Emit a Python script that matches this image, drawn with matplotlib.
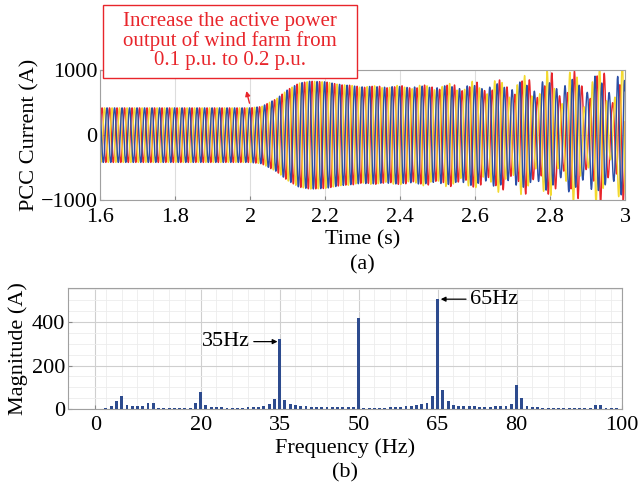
import matplotlib.pyplot as plt
import matplotlib.patches as patches
import numpy as np

plt.rcParams['font.family'] = ['Liberation Serif', 'DejaVu Serif']

# (a) PCC current: envelope key points
env_t = [1.6, 2.0, 2.03, 2.07, 2.1, 2.13, 2.16, 2.2, 2.25, 2.3, 2.5, 3.0]
env_amp = [420, 420, 440, 560, 700, 800, 830, 820, 770, 745, 740, 740]
# sub-synchronous oscillation amplitude (35 Hz / 65 Hz pair)
osc_t = [1.6, 2.2, 2.4, 2.5, 2.6, 2.7, 2.8, 2.9, 3.0]
osc_amp = [0, 0, 15, 30, 60, 110, 170, 220, 260]
f_fund = 50
f_sub, f_sup = 35, 65

# (b) spectrum, 1 Hz resolution, 0..100 Hz
freqs = list(range(0, 101))
mags = [1, 2, 4, 12, 37, 58, 20, 14, 14, 14, 30, 30, 3, 3, 3, 3, 3, 4, 6, 27,
        79, 17, 10, 9, 9, 7, 6, 6, 7, 8, 9, 10, 14, 22, 48, 322, 40, 25, 18, 14,
        12, 10, 9, 9, 8, 8, 8, 8, 8, 8, 419, 5, 5, 6, 6, 7, 8, 9, 10, 12,
        14, 18, 24, 30, 58, 504, 86, 36, 20, 15, 13, 12, 12, 11, 11, 11, 12, 13, 16, 25,
        112, 50, 16, 10, 8, 6, 6, 5, 5, 5, 5, 5, 5, 5, 6, 20, 17, 3, 3, 3, 2]

t = np.arange(1.6, 3.0, 1e-4)
A = np.interp(t, env_t, env_amp)
B = np.interp(t, osc_t, osc_amp)
phases = [0, -2 * np.pi / 3, 2 * np.pi / 3]
colors = ['#e8252b', '#f3d92f', '#2a4ea6']

fs = 16
fig = plt.figure(figsize=(6.38, 4.87), dpi=100)
ax1 = fig.add_axes([0.157, 0.589, 0.823, 0.267])
ax2 = fig.add_axes([0.1066, 0.160, 0.868, 0.248])

for ph, c in zip(phases, colors):
    i = (A * np.sin(2 * np.pi * f_fund * t + ph)
         + B * np.sin(2 * np.pi * f_sup * t + ph + 0.4)
         + 0.6 * B * np.sin(2 * np.pi * f_sub * t - ph + 1.1))
    ax1.plot(t, i, color=c, lw=1.0)

ax1.set_xlim(1.6, 3.0)
ax1.set_ylim(-1000, 1000)
ax1.set_xticks([1.6, 1.8, 2.0, 2.2, 2.4, 2.6, 2.8, 3.0], ['1.6', '1.8', '2', '2.2', '2.4', '2.6', '2.8', '3'])
ax1.set_yticks([-1000, 0, 1000], ['\u22121000', '0', '1000'])
ax1.grid(color='#dddddd', lw=0.8)
ax1.set_axisbelow(True)
ax1.set_xlabel('Time (s)', fontsize=fs)
ax1.xaxis.set_label_coords(0.5, -0.235)
ax1.set_ylabel('PCC Current (A)', fontsize=fs)
ax1.yaxis.set_label_coords(-0.115, 0.5)
ax1.text(0.5, -0.5, '(a)', transform=ax1.transAxes, ha='center', va='center', fontsize=fs)

ax1.annotate('', xy=(1.988, 720), xytext=(2.0, 450),
             arrowprops=dict(arrowstyle='-|>', color='#e8252b', lw=1.0, mutation_scale=7))
fig.patches.append(patches.Rectangle((0.1614, 0.8398), 0.398, 0.150, transform=fig.transFigure,
                                     fc='white', ec='#e8252b', lw=1.0, zorder=5))
fig.text(0.3605, 0.915, 'Increase the active power\noutput of wind farm from\n0.1 p.u. to 0.2 p.u.',
         ha='center', va='center', fontsize=15, color='#e8252b', linespacing=1.0, zorder=6)

ax2.bar(freqs, mags, width=0.55, color='#2d4b8e', zorder=3)
ax2.set_xlim(-5.2, 100)
ax2.set_ylim(0, 555)
ax2.set_xticks([0, 20, 35, 50, 65, 80, 100])
ax2.set_yticks([0, 200, 400])
ax2.set_xticks(np.arange(2, 100, 3), minor=True)
ax2.set_yticks(np.arange(50, 551, 50), minor=True)
ax2.tick_params(which='minor', length=0)
ax2.grid(which='major', color='#cfcfcf', lw=0.8)
ax2.grid(which='minor', color='#ececec', lw=0.6)
ax2.set_axisbelow(True)
ax2.set_xlabel('Frequency (Hz)', fontsize=fs)
ax2.xaxis.set_label_coords(0.5, -0.24)
ax2.set_ylabel('Magnitude (A)', fontsize=fs)
ax2.yaxis.set_label_coords(-0.072, 0.5)
ax2.text(0.5, -0.53, '(b)', transform=ax2.transAxes, ha='center', va='center', fontsize=fs)

ax2.annotate('35Hz', xy=(34.6, 310), xytext=(29.3, 310), fontsize=fs, va='center', ha='right',
             arrowprops=dict(arrowstyle='-|>', color='black', lw=0.9, mutation_scale=7, shrinkA=1, shrinkB=0))
ax2.annotate('65Hz', xy=(65.6, 505), xytext=(71.2, 505), fontsize=fs, va='center', ha='left',
             arrowprops=dict(arrowstyle='-|>', color='black', lw=0.9, mutation_scale=7, shrinkA=1, shrinkB=0))

for ax in (ax1, ax2):
    ax.tick_params(labelsize=fs, length=3, direction='in', color='#888888', pad=2)
    for s in ax.spines.values():
        s.set_color('#a0a0a0')
        s.set_linewidth(0.8)
ax1.tick_params(axis='x', pad=6)
ax2.tick_params(axis='x', pad=5)

fig.savefig('out.png', dpi=100)
